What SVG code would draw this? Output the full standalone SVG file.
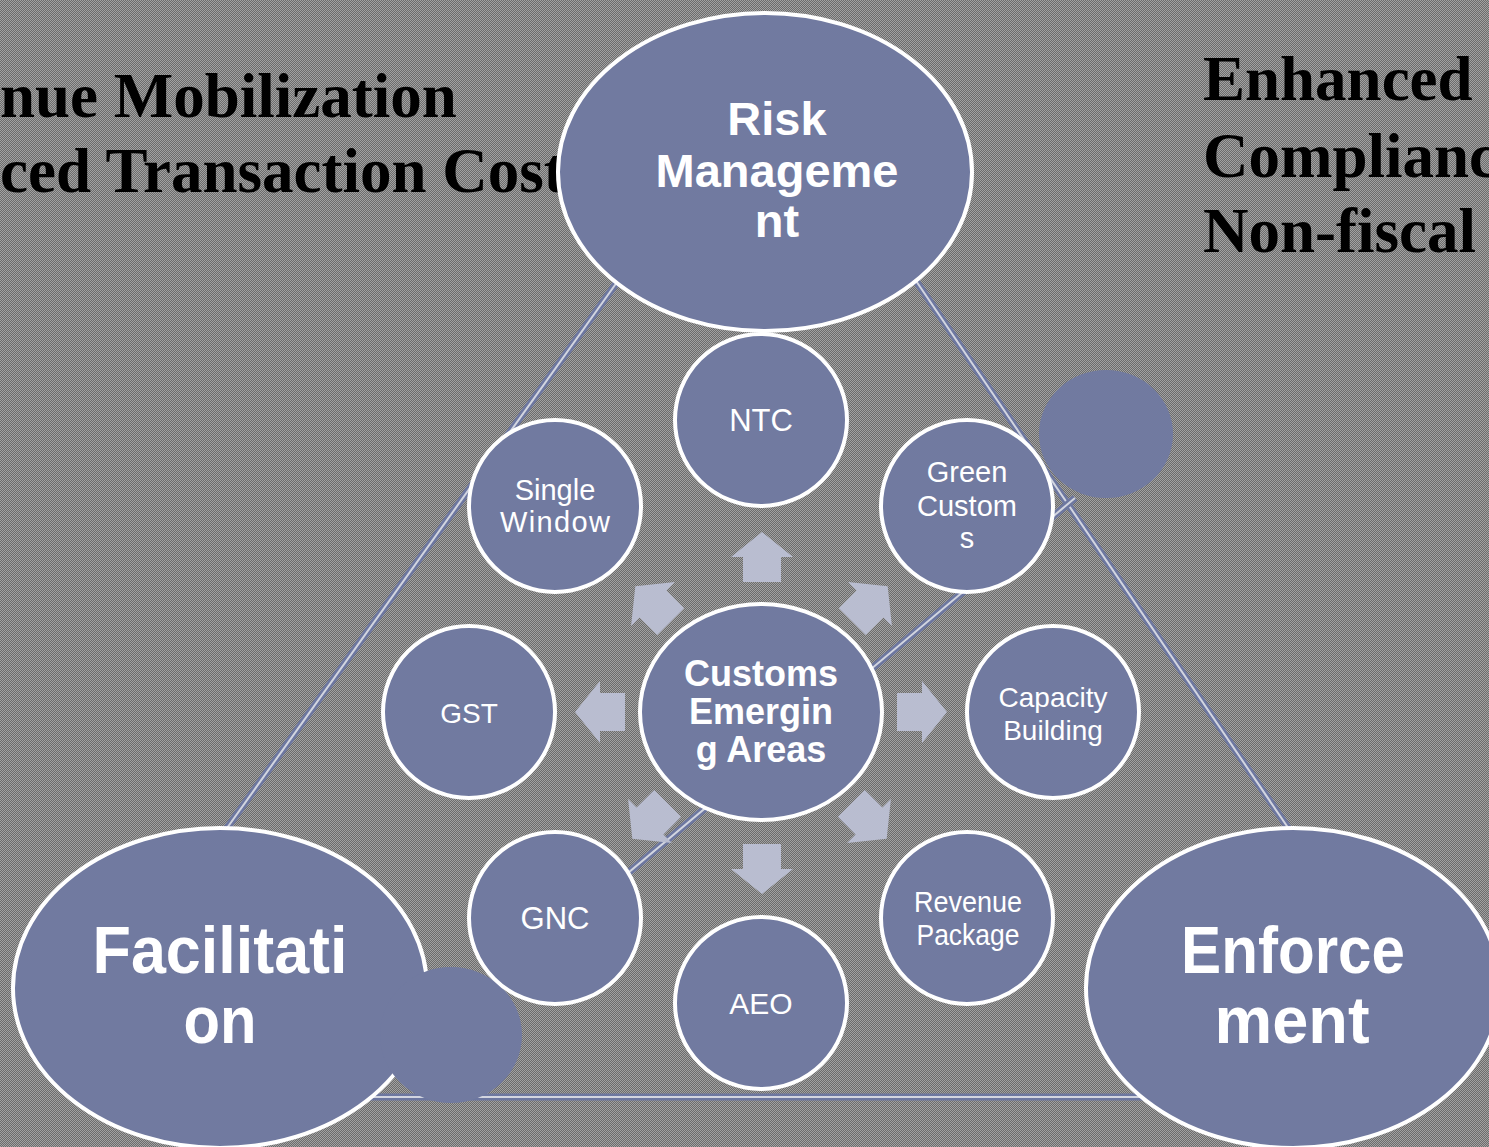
<svg xmlns="http://www.w3.org/2000/svg" width="1489" height="1147" viewBox="0 0 1489 1147">
<defs>
<pattern id="dither" width="2" height="2" patternUnits="userSpaceOnUse">
<rect width="2" height="2" fill="#6c6c6c"/>
<rect x="0" y="0" width="1" height="1" fill="#a2a2a2"/>
<rect x="1" y="1" width="1" height="1" fill="#a2a2a2"/>
</pattern>
<path id="blk" d="M-25,-19 H0 V-31 L25,0 L0,31 V19 H-25 Z"/>
</defs>
<style>
.title{font-family:"Liberation Serif","Times New Roman",serif;font-weight:bold;font-size:63px;fill:#000}
.node{fill:#717aa0;stroke:#ffffff;stroke-width:4}
.blob{fill:#717aa0}
.big{font-family:"Liberation Sans",Arial,sans-serif;font-weight:bold;fill:#fff;text-anchor:middle}
.lbl{font-family:"Liberation Sans",Arial,sans-serif;fill:#fff;text-anchor:middle}
.arr{fill:#b9bdd0}
.cb{stroke:#6d77a0;stroke-width:7;fill:none}
.ci{stroke:#d2d5e0;stroke-width:2;fill:none}
</style>
<rect width="1489" height="1147" fill="url(#dither)"/>

<g id="titles">
<text class="title" x="0" y="117">nue Mobilization</text>
<text class="title" x="0" y="192">ced Transaction Cost</text>
<text class="title" x="1203" y="100">Enhanced</text>
<text class="title" x="1203" y="177">Complianc</text>
<text class="title" x="1203" y="252">Non-fiscal</text>
</g>

<g id="connectors">
<line class="cb" x1="620" y1="278" x2="222" y2="835"/>
<line class="ci" x1="620" y1="278" x2="222" y2="835"/>
<line class="cb" x1="912" y1="275" x2="1293" y2="835"/>
<line class="ci" x1="912" y1="275" x2="1293" y2="835"/>
<line class="cb" x1="300" y1="1097" x2="1200" y2="1097"/>
<line class="ci" x1="300" y1="1097" x2="1200" y2="1097"/>
<line class="cb" x1="498" y1="982" x2="1075" y2="498"/>
<line class="ci" x1="498" y1="982" x2="1075" y2="498"/>
</g>

<g id="risk-management">
<ellipse class="node" cx="765" cy="172" rx="207" ry="159"/>
<text class="big" font-size="47" x="777" y="135">Risk</text>
<text class="big" font-size="47" x="777" y="187">Manageme</text>
<text class="big" font-size="47" x="777" y="237">nt</text>
</g>

<g id="facilitation">
<ellipse class="node" cx="220" cy="988" rx="207" ry="160"/>
<text class="big" font-size="66" x="220" y="973" textLength="255" lengthAdjust="spacingAndGlyphs">Facilitati</text>
<text class="big" font-size="66" x="220" y="1043" textLength="73" lengthAdjust="spacingAndGlyphs">on</text>
</g>

<g id="enforcement">
<ellipse class="node" cx="1293" cy="988" rx="207" ry="160"/>
<text class="big" font-size="66" x="1293" y="973" textLength="224" lengthAdjust="spacingAndGlyphs">Enforce</text>
<text class="big" font-size="66" x="1292" y="1043" textLength="155" lengthAdjust="spacingAndGlyphs">ment</text>
</g>

<g id="blob-right">
<ellipse class="blob" cx="1106" cy="434" rx="67" ry="64"/>
</g>
<g id="blob-left">
<ellipse class="blob" cx="451" cy="1035" rx="71" ry="68"/>
</g>

<g id="ntc">
<circle class="node" cx="761" cy="420" r="86"/>
<text class="lbl" font-size="31" x="761" y="431">NTC</text>
</g>

<g id="single-window">
<circle class="node" cx="555" cy="506" r="86"/>
<text class="lbl" font-size="29" x="555" y="500">Single</text>
<text class="lbl" font-size="29" x="555" y="532" textLength="110" lengthAdjust="spacing">Window</text>
</g>

<g id="green-customs">
<circle class="node" cx="967" cy="506" r="86"/>
<text class="lbl" font-size="29" x="967" y="482">Green</text>
<text class="lbl" font-size="29" x="967" y="516">Custom</text>
<text class="lbl" font-size="29" x="967" y="548">s</text>
</g>

<g id="gst">
<circle class="node" cx="469" cy="712" r="86"/>
<text class="lbl" font-size="28" x="469" y="723">GST</text>
</g>

<g id="capacity-building">
<circle class="node" cx="1053" cy="712" r="86"/>
<text class="lbl" font-size="28" x="1053" y="707">Capacity</text>
<text class="lbl" font-size="28" x="1053" y="740">Building</text>
</g>

<g id="gnc">
<circle class="node" cx="555" cy="918" r="86"/>
<text class="lbl" font-size="32" x="555" y="929" textLength="69" lengthAdjust="spacingAndGlyphs">GNC</text>
</g>

<g id="aeo">
<circle class="node" cx="761" cy="1003" r="86"/>
<text class="lbl" font-size="30" x="761" y="1014">AEO</text>
</g>

<g id="revenue-package">
<circle class="node" cx="967" cy="918" r="86"/>
<text class="lbl" font-size="30" x="968" y="912" textLength="108" lengthAdjust="spacingAndGlyphs">Revenue</text>
<text class="lbl" font-size="30" x="968" y="945" textLength="103" lengthAdjust="spacingAndGlyphs">Package</text>
</g>

<g id="customs-emerging-areas">
<ellipse class="node" cx="761" cy="712" rx="121" ry="108"/>
<text class="big" font-size="36" x="761" y="686">Customs</text>
<text class="big" font-size="36" x="761" y="724">Emergin</text>
<text class="big" font-size="36" x="761" y="762">g Areas</text>
</g>

<g id="arrows" class="arr">
<use href="#blk" transform="translate(762,557) rotate(-90)"/>
<use href="#blk" transform="translate(762,869) rotate(90)"/>
<use href="#blk" transform="translate(600,712) rotate(180)"/>
<use href="#blk" transform="translate(922,712)"/>
<use href="#blk" transform="translate(653,604) rotate(-135)"/>
<use href="#blk" transform="translate(870,604) rotate(-45)"/>
<use href="#blk" transform="translate(650,821) rotate(135)"/>
<use href="#blk" transform="translate(869,821) rotate(45)"/>
</g>
</svg>
